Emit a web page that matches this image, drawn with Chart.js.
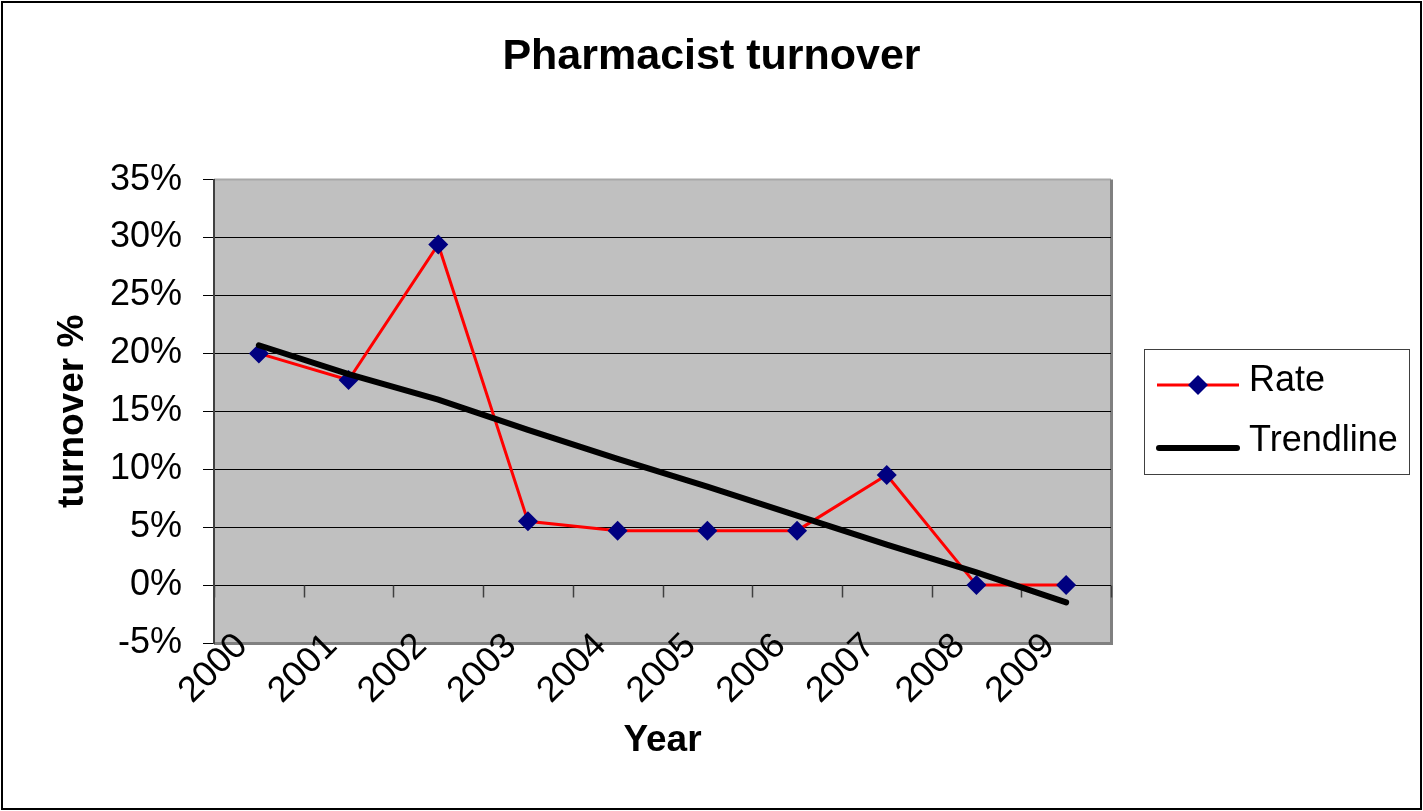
<!DOCTYPE html>
<html>
<head>
<meta charset="utf-8">
<title>Pharmacist turnover</title>
<script src="https://cdn.jsdelivr.net/npm/chart.js@4/dist/chart.umd.min.js"></script>
<style>
  html, body { margin: 0; padding: 0; background: #fff; }
  #wrap { width: 1423px; height: 811px; position: relative; }
</style>
</head>
<body>
<div id="wrap"><canvas id="turnoverChart"></canvas></div>
<script>
/* ---- data ---- */
const years = ['2000', '2001', '2002', '2003', '2004', '2005', '2006', '2007', '2008', '2009'];
const rateValues = [20.0, 17.7, 29.4, 5.5, 4.7, 4.7, 4.7, 9.5, 0, 0];
const trendValues = [20.7, 18.2, 16.0, 13.4, 10.9, 8.5, 6.0, 3.5, 1.1, -1.5];
const yMin = -5, yMax = 35, yStep = 5;

const FONT = '"Liberation Sans", Arial, sans-serif';
const NAVY = '#000080';
const LABEL_LIFT = 40; // year labels overlap the bottom of the plot, like Excel draws them

/* ---- background, plot frame, axis ticks on the zero line, legend ---- */
const chartFrame = {
  id: 'chartFrame',
  afterLayout(chart){
    // let the x labels reach up into the plot (Chart.js clips them to the scale box)
    const x = chart.scales.x;
    x.top -= LABEL_LIFT;
    x._labelItems = null;
  },
  beforeDraw(chart){
    const {ctx, chartArea: a} = chart;
    ctx.save();
    ctx.fillStyle = '#fff';
    ctx.fillRect(0, 0, chart.width, chart.height);
    ctx.fillStyle = '#c0c0c0';
    ctx.fillRect(a.left, a.top, a.right - a.left, a.bottom - a.top);
    // plot border (top light, right/bottom darker grey) - under the tick labels
    ctx.strokeStyle = '#a8a8a8'; ctx.lineWidth = 2;
    ctx.beginPath(); ctx.moveTo(a.left, a.top); ctx.lineTo(a.right, a.top); ctx.stroke();
    ctx.strokeStyle = '#808080'; ctx.lineWidth = 3;
    ctx.beginPath();
    ctx.moveTo(a.right + 0.5, a.top); ctx.lineTo(a.right + 0.5, a.bottom + 0.5);
    ctx.lineTo(a.left, a.bottom + 0.5);
    ctx.stroke();
    ctx.restore();
  },
  beforeDatasetsDraw(chart){
    const {ctx, scales} = chart;
    const x = scales.x, y = scales.y;
    ctx.save();
    // category tick marks hanging from the 0% line
    const y0 = Math.round(y.getPixelForValue(0)) + 0.5;
    const half = (x.getPixelForValue(1) - x.getPixelForValue(0)) / 2;
    ctx.strokeStyle = '#404040'; ctx.lineWidth = 1.5;
    for (let i = 0; i <= years.length; i++){
      const px = Math.round(x.getPixelForValue(i) - half) + 0.5;
      ctx.beginPath(); ctx.moveTo(px, y0); ctx.lineTo(px, y0 + 12); ctx.stroke();
    }
    ctx.restore();
  },
  afterDraw(chart){
    const {ctx, chartArea: a} = chart;
    ctx.save();
    // outer frame
    ctx.strokeStyle = '#000'; ctx.lineWidth = 2;
    ctx.strokeRect(2, 2, chart.width - 4, chart.height - 4);

    // legend box
    const w = 265, h = 125;
    const left = a.right + 33;
    const top = Math.round((a.top + a.bottom) / 2 - h / 2);
    ctx.strokeStyle = '#404040'; ctx.lineWidth = 1;
    ctx.strokeRect(left + 0.5, top + 0.5, w, h);

    const ds = chart.data.datasets;
    const rate = ds.find(d => d.label === 'Rate');
    const trend = ds.find(d => d.label === 'Trendline');
    const r1 = top + 36, r2 = top + 99;

    ctx.strokeStyle = rate.borderColor; ctx.lineWidth = rate.borderWidth;
    ctx.beginPath(); ctx.moveTo(left + 13, r1); ctx.lineTo(left + 95, r1); ctx.stroke();
    const cx = left + 54, s = 10;
    ctx.fillStyle = rate.pointBackgroundColor;
    ctx.beginPath();
    ctx.moveTo(cx, r1 - s); ctx.lineTo(cx + s, r1); ctx.lineTo(cx, r1 + s); ctx.lineTo(cx - s, r1);
    ctx.closePath(); ctx.fill();

    ctx.strokeStyle = trend.borderColor; ctx.lineWidth = trend.borderWidth; ctx.lineCap = 'round';
    ctx.beginPath(); ctx.moveTo(left + 15, r2); ctx.lineTo(left + 93, r2); ctx.stroke();

    ctx.fillStyle = '#000';
    ctx.font = '36px ' + FONT;
    ctx.textAlign = 'left'; ctx.textBaseline = 'middle';
    ctx.fillText(rate.label, left + 105, r1 - 4);
    ctx.fillText(trend.label, left + 105, r2 - 7);
    ctx.restore();
  }
};

const edgeTick = v => v === yMin || v === yMax;

new Chart(document.getElementById('turnoverChart'), {
  type: 'line',
  data: {
    labels: years,
    datasets: [
      {
        label: 'Rate', data: rateValues, order: 2,
        borderColor: '#ff0000', borderWidth: 3,
        pointStyle: 'rectRot', pointRadius: 10,
        pointBackgroundColor: NAVY, pointBorderColor: NAVY, pointBorderWidth: 0,
        tension: 0
      },
      {
        label: 'Trendline', data: trendValues, order: 1,
        borderColor: '#000', borderWidth: 6, borderCapStyle: 'round',
        pointRadius: 0, tension: 0
      }
    ]
  },
  options: {
    responsive: true,
    maintainAspectRatio: false,
    animation: false,
    events: [],
    layout: { padding: 0 },
    plugins: {
      legend: { display: false },
      tooltip: { enabled: false },
      title: {
        display: true, text: 'Pharmacist turnover', color: '#000',
        font: { family: FONT, size: 43, weight: 'bold' },
        padding: { top: 31, bottom: 97 }
      }
    },
    scales: {
      x: {
        type: 'category', offset: true,
        grid: { display: false, drawTicks: false },
        border: { display: false },
        ticks: {
          color: '#000', font: { family: FONT, size: 36 },
          minRotation: 45, maxRotation: 45, autoSkip: false,
          labelOffset: -17, padding: LABEL_LIFT - 18
        },
        title: {
          display: true, text: 'Year', color: '#000',
          font: { family: FONT, size: 37, weight: 'bold' },
          padding: { top: 0, bottom: 48 }
        },
        afterFit(scale){ scale.height = 168; }
      },
      y: {
        min: yMin, max: yMax,
        grid: {
          color: c => edgeTick(c.tick && c.tick.value) ? 'rgba(0,0,0,0)' : '#000',
          lineWidth: 1, tickLength: 11, tickColor: '#000'
        },
        border: { display: true, color: '#404040', width: 2 },
        ticks: {
          stepSize: yStep, color: '#000', padding: 21,
          font: { family: FONT, size: 36 },
          callback: v => v + '%'
        },
        title: {
          display: true, text: 'turnover %', color: '#000',
          font: { family: FONT, size: 37, weight: 'bold' },
          padding: { top: 51, bottom: 0 }
        },
        afterFit(scale){ scale.width = 214; }
      },
      // empty right-hand box that reserves the room for the legend
      legendRoom: {
        type: 'linear', position: 'right', display: true,
        grid: { display: false, drawTicks: false },
        border: { display: false },
        ticks: { display: false },
        afterFit(scale){ scale.width = 312; }
      }
    }
  },
  plugins: [chartFrame]
});
</script>
</body>
</html>
